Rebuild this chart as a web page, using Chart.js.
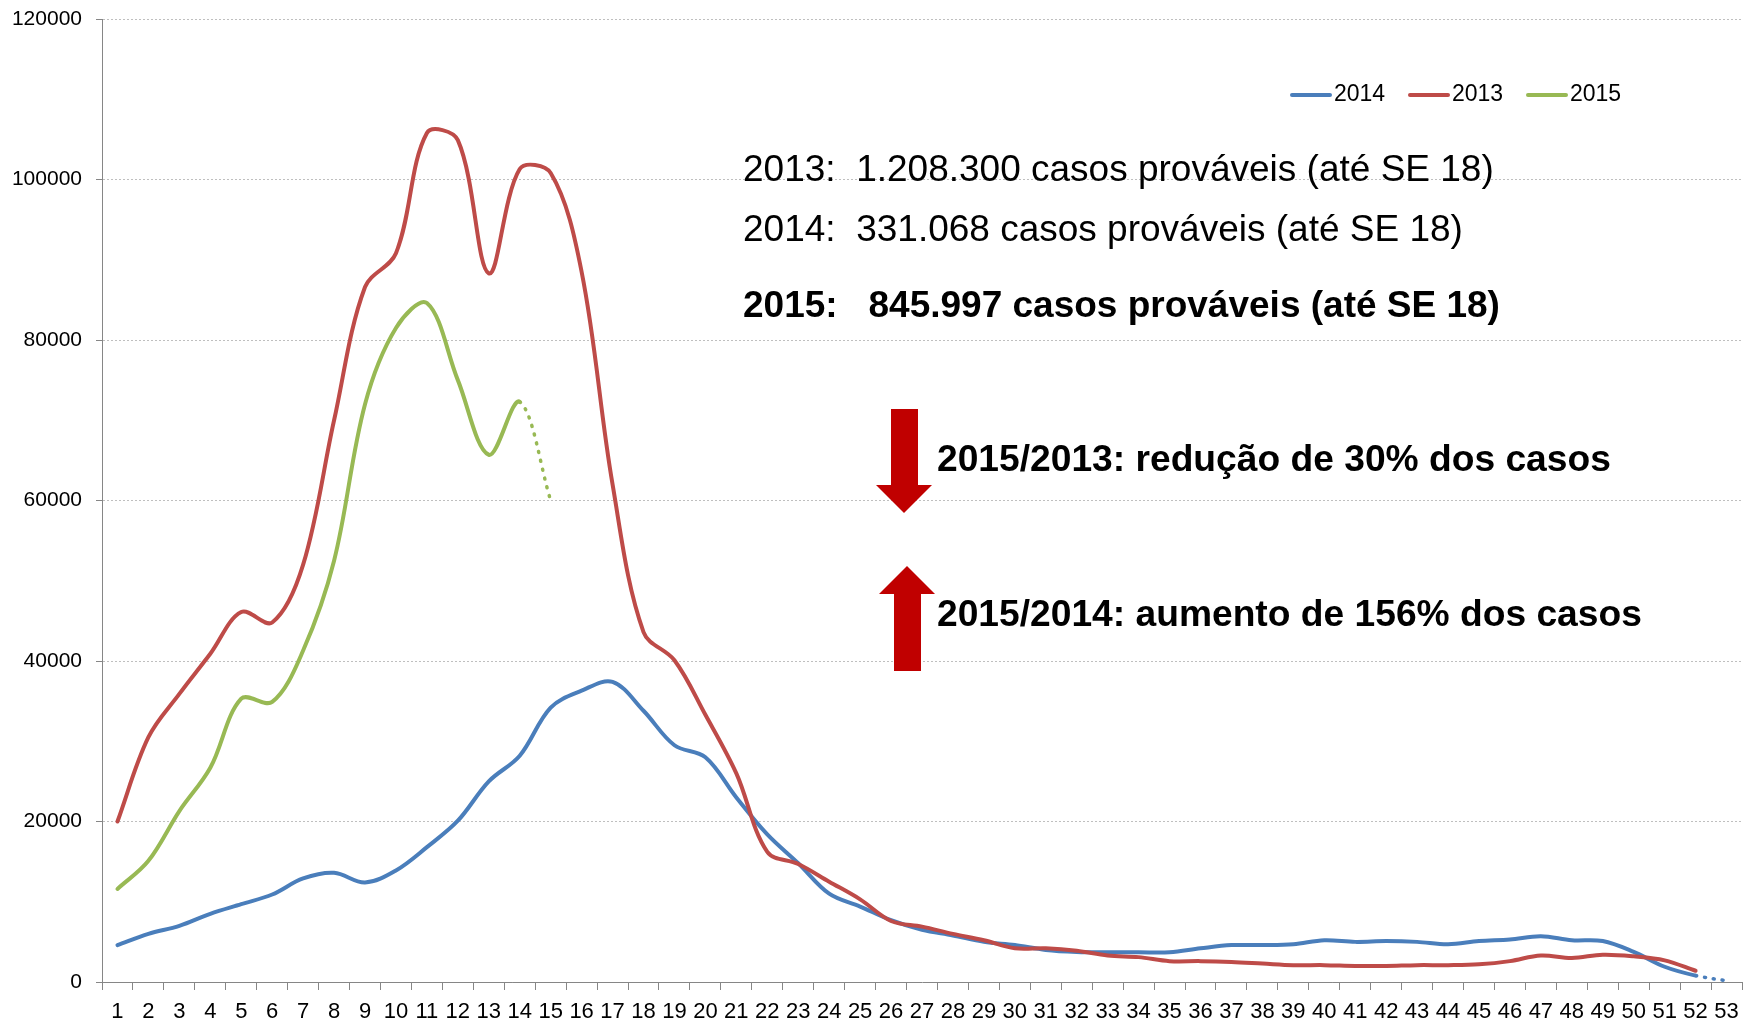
<!DOCTYPE html>
<html>
<head>
<meta charset="utf-8">
<script src="https://cdn.jsdelivr.net/npm/chart.js@4.4.1/dist/chart.umd.min.js"></script>
<style>
    body { margin: 0; background: #ffffff; }
    #wrap { width: 1753px; height: 1024px; }
</style>
</head>
<body>
<div id="wrap"><canvas id="casosChart" width="1753" height="1024"></canvas></div>
<script>
// semanas epidemiologicas
const semanas = [1, 2, 3, 4, 5, 6, 7, 8, 9, 10, 11, 12, 13, 14, 15, 16, 17, 18, 19, 20,
    21, 22, 23, 24, 25, 26, 27, 28, 29, 30, 31, 32, 33, 34, 35, 36, 37, 38, 39, 40,
    41, 42, 43, 44, 45, 46, 47, 48, 49, 50, 51, 52, 53];

const casos2014 = [4600, 6000, 7000, 8500, 9700, 10900, 12900, 13600, 12400, 13900,
    16800, 20100, 25000, 28200, 34200, 36300, 37400, 33800, 29500, 28000,
    23000, 18400, 14800, 11000, 9400, 7700, 6500, 5800, 5000, 4600,
    4000, 3750, 3700, 3700, 3700, 4200, 4600, 4600, 4700, 5200,
    5000, 5100, 5000, 4700, 5100, 5300, 5700, 5200, 5100, 3750,
    1900, 800, 150];

const casos2013 = [20000, 30500, 35900, 40900, 46100, 44800, 52000, 70000, 86600, 90800,
    105800, 104900, 88300, 101300, 100800, 88500, 62000, 43600, 40100, 33300,
    26000, 16200, 14700, 12500, 10300, 7600, 6900, 6000, 5200, 4200,
    4200, 3900, 3300, 3100, 2600, 2600, 2500, 2300, 2100, 2100,
    2000, 2000, 2100, 2100, 2200, 2600, 3300, 3000, 3400, 3200,
    2700, 1400, null];

const casos2015 = [11600, 15100, 21300, 26700, 35300, 34900, 41300, 52500, 72000, 81500,
    84600, 75000, 65700, 72300, 60000];

const yTicks = [0, 20000, 40000, 60000, 80000, 100000, 120000];

const textoTotais = [
    '2013:  1.208.300 casos prováveis (até SE 18)',
    '2014:  331.068 casos prováveis (até SE 18)',
    '2015:   845.997 casos prováveis (até SE 18)'
];
const textoVariacao = [
    '2015/2013: redução de 30% dos casos',
    '2015/2014: aumento de 156% dos casos'
];

const FONTE = "'Liberation Sans', Arial, sans-serif";
const AZUL = '#4A7EBB', VERMELHO = '#BE4B48', VERDE = '#98B954', SETA = '#C00000';

// ultimo trecho de cada serie e pontilhado (dado parcial)
function trechoPontilhado(ultimo) {
    return {
        borderDash: ctx => ctx.p1DataIndex === ultimo ? [1, 8] : undefined,
        borderWidth: ctx => ctx.p1DataIndex === ultimo ? 3.5 : undefined
    };
}

// legenda dentro da area do grafico + textos e setas
const anotacoes = {
    id: 'anotacoes',
    afterDraw(chart) {
        const ctx = chart.ctx;
        ctx.save();

        // legenda
        let x = 1292;
        ctx.font = '23px ' + FONTE;
        ctx.textBaseline = 'middle';
        ctx.lineCap = 'round';
        chart.data.datasets.forEach(ds => {
            ctx.strokeStyle = ds.borderColor;
            ctx.lineWidth = 4;
            ctx.beginPath();
            ctx.moveTo(x, 95);
            ctx.lineTo(x + 38, 95);
            ctx.stroke();
            ctx.fillStyle = '#000';
            ctx.fillText(ds.label, x + 42, 95);
            x += 118;
        });

        // totais
        ctx.textBaseline = 'alphabetic';
        ctx.fillStyle = '#000';
        ctx.font = '37px ' + FONTE;
        ctx.fillText(textoTotais[0], 743, 181);
        ctx.fillText(textoTotais[1], 743, 241);
        ctx.font = 'bold 37px ' + FONTE;
        ctx.fillText(textoTotais[2], 743, 317);
        ctx.font = 'bold 37.2px ' + FONTE;
        ctx.fillText(textoVariacao[0], 937, 471);
        ctx.fillText(textoVariacao[1], 937, 626);

        // setas
        ctx.fillStyle = SETA;
        ctx.beginPath();
        ctx.moveTo(891, 409); ctx.lineTo(918, 409); ctx.lineTo(918, 485);
        ctx.lineTo(932, 485); ctx.lineTo(904, 513); ctx.lineTo(876, 485);
        ctx.lineTo(891, 485); ctx.closePath();
        ctx.fill();
        ctx.beginPath();
        ctx.moveTo(907, 566); ctx.lineTo(935, 594); ctx.lineTo(921, 594);
        ctx.lineTo(921, 671); ctx.lineTo(894, 671); ctx.lineTo(894, 594);
        ctx.lineTo(879, 594); ctx.closePath();
        ctx.fill();

        ctx.restore();
    }
};

Chart.defaults.font.family = FONTE;
Chart.defaults.color = '#000';

new Chart(document.getElementById('casosChart').getContext('2d'), {
    type: 'line',
    data: {
        labels: semanas,
        datasets: [
            { label: '2014', data: casos2014, borderColor: AZUL, order: 3, segment: trechoPontilhado(52) },
            { label: '2013', data: casos2013, borderColor: VERMELHO, order: 1 },
            { label: '2015', data: casos2015, borderColor: VERDE, order: 2, segment: trechoPontilhado(14) }
        ]
    },
    options: {
        responsive: false,
        animation: false,
        devicePixelRatio: 1,
        layout: { padding: { left: 11, top: 19, right: 11, bottom: 2 } },
        elements: {
            line: { borderWidth: 4, tension: 0.35, borderCapStyle: 'round', borderJoinStyle: 'round', fill: false },
            point: { radius: 0, hoverRadius: 0 }
        },
        plugins: { legend: { display: false }, tooltip: { enabled: false } },
        scales: {
            x: {
                offset: true,
                afterFit: scale => { scale.height = 40; },
                grid: { offset: true, drawOnChartArea: false, drawTicks: true, tickLength: 8, color: '#868686' },
                border: { display: true, color: '#868686', width: 1 },
                ticks: { autoSkip: false, maxRotation: 0, padding: 11, font: { size: 22, lineHeight: 1 } }
            },
            y: {
                min: 0, max: 120000,
                afterFit: scale => { scale.width = 91; scale.paddingTop = 0; scale.paddingBottom = 0; },
                afterBuildTicks: axis => { axis.ticks = yTicks.map(v => ({ value: v })); },
                grid: { color: '#bfbfbf', tickLength: 6, tickColor: '#868686' },
                border: { display: true, color: '#868686', width: 1, dash: [2, 2] },
                ticks: { padding: 14, font: { size: 21 }, callback: v => String(v) }
            }
        }
    },
    plugins: [anotacoes]
});
</script>
</body>
</html>
